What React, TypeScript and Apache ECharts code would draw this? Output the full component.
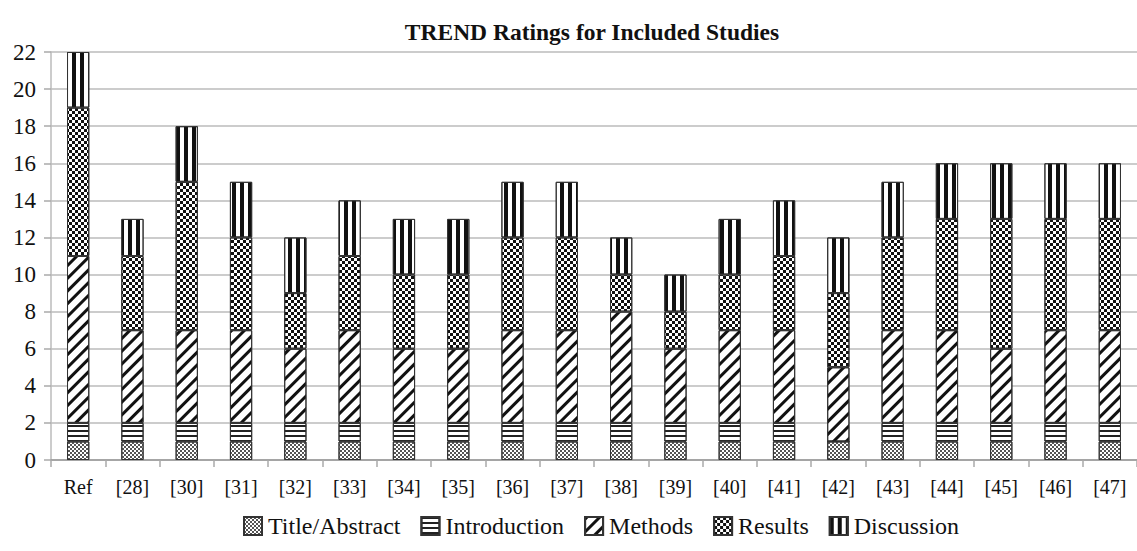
import React, { useEffect, useRef } from "react";
import * as echarts from "echarts";

const categories = ["Ref", "[28]", "[30]", "[31]", "[32]", "[33]", "[34]", "[35]", "[36]", "[37]", "[38]", "[39]", "[40]", "[41]", "[42]", "[43]", "[44]", "[45]", "[46]", "[47]"];
const titleAbstract = [1, 1, 1, 1, 1, 1, 1, 1, 1, 1, 1, 1, 1, 1, 1, 1, 1, 1, 1, 1];
const introduction = [1, 1, 1, 1, 1, 1, 1, 1, 1, 1, 1, 1, 1, 1, 0, 1, 1, 1, 1, 1];
const methods = [9, 5, 5, 5, 4, 5, 4, 4, 5, 5, 6, 4, 5, 5, 4, 5, 5, 4, 5, 5];
const results = [8, 4, 8, 5, 3, 4, 4, 4, 5, 5, 2, 2, 3, 4, 4, 5, 6, 7, 6, 6];
const discussion = [3, 2, 3, 3, 3, 3, 3, 3, 3, 3, 2, 2, 3, 3, 3, 3, 3, 3, 3, 3];
const yTicks = { min: 0, max: 22, interval: 2 };

const FONT = "'Liberation Serif', 'Times New Roman', serif";

const decals: Record<string, any> = {
  "Title/Abstract": { symbol: "rect", symbolSize: 1, dashArrayX: [[2, 2], [0, 2, 2, 0]], dashArrayY: [2, 0], color: "#555", backgroundColor: "#fff" },
  Introduction: { symbol: "rect", symbolSize: 1, dashArrayX: [1, 0], dashArrayY: [2, 2.5], color: "#222", backgroundColor: "#fff" },
  Methods: { symbol: "rect", symbolSize: 1, dashArrayX: [1, 0], dashArrayY: [3, 6], rotation: -Math.PI / 4, color: "#111", backgroundColor: "#fff" },
  Results: { symbol: "rect", symbolSize: 1, dashArrayX: [[3, 3], [0, 3, 3, 0]], dashArrayY: [3, 0], color: "#111", backgroundColor: "#fff" },
  Discussion: { symbol: "rect", symbolSize: 1, dashArrayX: [4, 4], dashArrayY: [1, 0], color: "#111", backgroundColor: "#fff" },
};

const seriesDefs: [string, number[]][] = [
  ["Title/Abstract", titleAbstract],
  ["Introduction", introduction],
  ["Methods", methods],
  ["Results", results],
  ["Discussion", discussion],
];

export default function App() {
  const ref = useRef<HTMLDivElement>(null);
  useEffect(() => {
    if (!ref.current) return;
    const chart = echarts.init(ref.current, undefined, { renderer: "svg" });
    chart.setOption({
      animation: false,
      backgroundColor: "#fff",
      title: {
        text: "TREND Ratings for Included Studies",
        left: 587,
        textAlign: "center",
        top: 15,
        textStyle: { fontFamily: FONT, fontWeight: "bold", fontSize: 23.5, color: "#111" },
      },
      legend: {
        top: 509,
        left: 238,
        icon: "rect",
        itemWidth: 18,
        itemHeight: 18,
        itemGap: 20,
        textStyle: { fontFamily: FONT, fontSize: 24, color: "#111", padding: [0, 0, 0, 1] },
        data: seriesDefs.map(([n]) => n),
      },
      grid: { left: 51, right: -2, top: 52, bottom: 91, containLabel: false },
      xAxis: {
        type: "category",
        data: categories,
        axisLine: { lineStyle: { color: "#999", width: 1.5 } },
        axisTick: { show: true, length: 7, lineStyle: { color: "#aaa", width: 1.5 } },
        axisLabel: { fontFamily: FONT, fontSize: 20, color: "#111", margin: 17 },
      },
      yAxis: {
        type: "value",
        min: yTicks.min,
        max: yTicks.max,
        interval: yTicks.interval,
        axisLine: { show: true, lineStyle: { color: "#bbb", width: 1.5 } },
        axisTick: { show: true, length: 7, lineStyle: { color: "#aaa", width: 1.5 } },
        splitLine: { lineStyle: { color: "#bbb", width: 1.5 } },
        axisLabel: { fontFamily: FONT, fontSize: 23, color: "#111", margin: 15 },
      },
      series: seriesDefs.map(([name, data]) => ({
        name,
        type: "bar",
        stack: "total",
        barWidth: "41%",
        data,
        itemStyle: { color: "#fff", borderColor: "#333", borderWidth: 1, decal: decals[name] },
      })),
    });
    return () => chart.dispose();
  }, []);
  return <div ref={ref} style={{ position: "fixed", left: 0, top: 0, width: 1137, height: 551 }} />;
}
